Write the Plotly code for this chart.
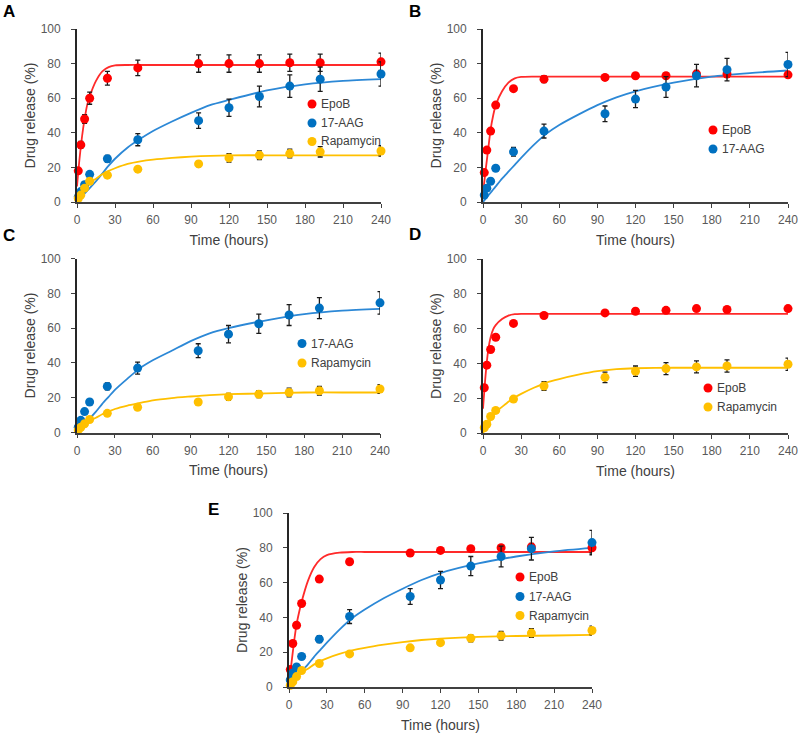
import plotly.graph_objects as go

# ---------------- data ----------------
TIMES = [1, 3, 6, 10, 24, 48, 96, 120, 144, 168, 192, 240]
CURVE_T = [0, 2, 4, 6, 8, 10, 15, 20, 25, 30, 40, 50, 60, 75, 90, 105, 120, 150, 180, 210, 240]

X_TICKS = [0, 30, 60, 90, 120, 150, 180, 210, 240]
Y_TICKS = [0, 20, 40, 60, 80, 100]

# Panel A
A_epob = [18, 33, 48, 60, 71.5, 77.5, 80, 80, 80, 80.5, 80.5, 81]
A_epob_err = [None, 2, 2.5, 3.5, 4, 4.5, 5, 5, 5, 5, 5, 5]
A_aag = [3, 6, 10, 16, 25, 36, 47, 54.5, 61, 67, 71, 74]
A_aag_err = [None, None, None, None, 2, 3.5, 4.5, 5, 6, 6.5, 7, 7]
A_rapa = [2, 4, 8, 12, 15.5, 19, 22, 25.5, 27, 28, 29, 29.5]
A_rapa_err = [None, None, None, None, None, None, 1.5, 2.5, 2.5, 2.5, 3, 3]
A_epob_fit = [9, 25, 38, 48, 56, 61, 70, 75.5, 78, 79, 79.2, 79.2, 79.2, 79.2, 79.2, 79.2, 79.2, 79.2, 79.2, 79.2, 79.2]
A_aag_fit = [0, 1.5, 3, 5, 6.5, 8, 12, 16.5, 21, 25, 31.5, 36.5, 41, 46.5, 51.5, 56, 59, 64.5, 68, 70, 71]
A_rapa_fit = [0, 2.5, 5, 7, 9, 11, 13.5, 16, 18, 19.5, 22, 23.5, 24.5, 25.5, 26.2, 26.7, 27, 27, 27, 27, 27]

# Panel B
B_epob = [17, 30, 41, 56, 65.5, 71, 72, 73, 73, 74, 74, 73.5]
B_epob_err = [None, None, None, None, None, 2, 1, 1.5, 1.5, 2, 2, 1]
B_aag = [4, 8, 12, 19.5, 29, 41, 51, 59.5, 66.5, 73, 76.5, 79.5]
B_aag_err = [None, None, None, None, 2.5, 4, 4.5, 5, 6, 6.5, 6.5, 7]
B_epob_fit = [5, 18, 30, 42, 50, 56, 64, 69, 71.5, 72.3, 72.5, 72.5, 72.5, 72.5, 72.5, 72.5, 72.5, 72.5, 72.5, 72.5, 72.5]
B_aag_fit = [0, 1.8, 3.6, 5.4, 7.2, 9, 13.5, 17.5, 21.5, 25.5, 33, 39.5, 44.5, 50.5, 56, 60.5, 64, 69, 72.5, 74.5, 76]

# Panel C
C_aag = [3, 7, 12, 17.5, 26.5, 37, 47, 56.5, 62.5, 67.5, 71.5, 74.5]
C_aag_err = [None, None, None, None, 2, 3.5, 4, 5, 5.5, 6, 6, 6.5]
C_rapa = [1.5, 3, 5, 7.5, 11, 14.5, 17.5, 20.5, 22, 23, 24, 25]
C_rapa_err = [None, None, None, None, None, None, None, 2, 2, 2.5, 2.5, 2.5]
C_aag_fit = [0, 1.6, 3.2, 5, 6.5, 8, 12, 16.5, 20.5, 24.5, 31, 37, 41.5, 47, 52.5, 57, 60, 64.5, 68, 70, 71]
C_rapa_fit = [0, 1.5, 3, 4.5, 6, 7, 8.5, 10.5, 12, 13.5, 15.5, 17, 18.5, 19.8, 20.7, 21.5, 22, 22.5, 23, 23, 23]

# Panel D
D_epob = [26, 39, 48, 55, 63, 67.5, 69, 70, 70.5, 71.5, 71, 71.5]
D_epob_err = [None] * 12
D_rapa = [3, 5, 9.5, 13, 19.5, 27, 32, 35.5, 37, 38, 38.5, 39.5]
D_rapa_err = [None, None, None, None, None, 2.5, 3, 3, 3.5, 3.5, 3.5, 3.5]
D_epob_fit = [14, 33, 47, 55, 59.5, 62, 65.5, 67.5, 68.3, 68.5, 68.5, 68.5, 68.5, 68.5, 68.5, 68.5, 68.5, 68.5, 68.5, 68.5, 68.5]
D_rapa_fit = [0, 2.5, 5, 7.5, 10, 12, 15, 18, 20.5, 22.5, 26, 29, 31, 33.5, 35.5, 36.7, 37.2, 37.5, 37.5, 37.5, 37.5]

# Panel E
E_epob = [10, 25, 35.5, 48, 62, 72, 77, 78.5, 79.5, 80, 80.5, 80]
E_epob_err = [None, None, None, None, None, None, None, None, None, None, 2, 3]
E_aag = [4, 8, 11.5, 17.5, 27.5, 40.5, 52, 61.5, 69.5, 75, 79.5, 83]
E_aag_err = [None, None, None, None, 2, 4, 4.5, 5, 5.5, 6, 6.5, 7]
E_rapa = [1, 3, 6, 9.5, 13.5, 19, 22.5, 25.5, 28, 29.5, 31, 32.5]
E_rapa_err = [None, None, None, None, None, None, None, None, 2, 2.5, 2.5, 2.5]
E_epob_fit = [2, 14, 26, 36, 43, 49, 61, 69, 73.5, 75.8, 77.2, 77.6, 77.6, 77.6, 77.6, 77.6, 77.6, 77.6, 77.6, 77.6, 77.6]
E_aag_fit = [0, 1.8, 3.6, 5.4, 7.2, 9, 13, 17.5, 21.5, 25.5, 33, 39.5, 44.5, 51, 56.5, 61.5, 65.5, 71, 75, 78, 80]
E_rapa_fit = [0, 1.5, 3, 5, 7, 8.5, 10.5, 13, 15, 16.5, 19, 21, 22.5, 24.3, 25.8, 27, 27.8, 28.8, 29.3, 29.6, 30]

# ---------------- styling ----------------
FONT = "Liberation Sans, Arial, sans-serif"
COL = {"EpoB": "#FF0000", "17-AAG": "#0070C0", "Rapamycin": "#FFC000"}
LINE_COL = {"EpoB": "#FF2A2A", "17-AAG": "#2C88D6", "Rapamycin": "#FFC000"}

W, H = 800, 736

def px_x(a, b):
    return [a / W, b / W]

def px_y(top, bottom):
    return [1 - bottom / H, 1 - top / H]

panels = {
    # name: (x domain, y domain, axis suffix, legend marker centre x, legend item y positions)
    "A": (px_x(77, 381), px_y(29, 202), "", 312, [104, 123, 141.5]),
    "B": (px_x(483, 788), px_y(29, 202), "2", 713, [130, 149]),
    "C": (px_x(77, 380), px_y(258.5, 432.5), "3", 302, [343.5, 363]),
    "D": (px_x(483, 788), px_y(259, 433), "4", 708, [388, 407]),
    "E": (px_x(289, 592), px_y(513, 687), "5", 520, [577, 596.5, 615.5]),
}

series = {
    "A": [("EpoB", A_epob, A_epob_err, A_epob_fit),
          ("17-AAG", A_aag, A_aag_err, A_aag_fit),
          ("Rapamycin", A_rapa, A_rapa_err, A_rapa_fit)],
    "B": [("EpoB", B_epob, B_epob_err, B_epob_fit),
          ("17-AAG", B_aag, B_aag_err, B_aag_fit)],
    "C": [("17-AAG", C_aag, C_aag_err, C_aag_fit),
          ("Rapamycin", C_rapa, C_rapa_err, C_rapa_fit)],
    "D": [("EpoB", D_epob, D_epob_err, D_epob_fit),
          ("Rapamycin", D_rapa, D_rapa_err, D_rapa_fit)],
    "E": [("EpoB", E_epob, E_epob_err, E_epob_fit),
          ("17-AAG", E_aag, E_aag_err, E_aag_fit),
          ("Rapamycin", E_rapa, E_rapa_err, E_rapa_fit)],
}

fig = go.Figure()
layout = dict(
    width=W, height=H, autosize=False,
    margin=dict(l=0, r=0, t=0, b=0, autoexpand=False),
    paper_bgcolor="white", plot_bgcolor="white",
    font=dict(family=FONT, size=12, color="#404040"),
    showlegend=False,
    annotations=[], shapes=[],
)

label_pos = {"A": (9, 11), "B": (415, 11), "C": (8.5, 235.5), "D": (415, 234), "E": (213, 509)}
MARK_D = 9  # legend swatch diameter (px)

for name, (xd, yd, sfx, lgx, lgys) in panels.items():
    xa = "x" + sfx
    ya = "y" + sfx
    # fitted curves first (below markers)
    for drug, vals, err, fit in series[name]:
        fig.add_trace(go.Scatter(
            x=CURVE_T, y=fit, xaxis=xa, yaxis=ya, mode="lines",
            line=dict(color=LINE_COL[drug], width=1.8, shape="spline", smoothing=0.7),
            showlegend=False, hoverinfo="skip", cliponaxis=False,
        ))
    for drug, vals, err, fit in series[name]:
        fig.add_trace(go.Scatter(
            x=TIMES, y=vals, xaxis=xa, yaxis=ya, mode="markers", name=drug,
            marker=dict(color=COL[drug], size=9, line=dict(width=0)),
            error_y=dict(type="data", array=err, visible=True, color="#1a1a1a",
                         thickness=1.3, width=2.5),
            cliponaxis=False,
        ))
    layout["xaxis" + sfx] = dict(
        domain=xd, anchor=ya, range=[0, 240], tickvals=X_TICKS,
        ticks="outside", ticklen=4, tickwidth=1, tickcolor="#404040",
        showline=True, linecolor="#404040", linewidth=1.5,
        showgrid=False, zeroline=False, fixedrange=True,
        tickfont=dict(family=FONT, size=12, color="#595959"),
        ticklabelstandoff=2,
        title=dict(text="Time (hours)", font=dict(family=FONT, size=14, color="#404040"), standoff=9),
    )
    layout["yaxis" + sfx] = dict(
        domain=yd, anchor=xa, range=[0, 100], tickvals=Y_TICKS,
        ticks="outside", ticklen=4, tickwidth=1, tickcolor="#404040",
        showline=True, linecolor="#262626", linewidth=1.8,
        showgrid=False, zeroline=False, fixedrange=True,
        tickfont=dict(family=FONT, size=12, color="#595959"),
        ticklabelstandoff=8,
        title=dict(text="Drug release (%)", font=dict(family=FONT, size=14, color="#404040"), standoff=2),
    )
    # legend: coloured dot + label for each drug of the panel
    for (drug, vals, err, fit), ly in zip(series[name], lgys):
        r = MARK_D / 2
        layout["shapes"].append(dict(
            type="circle", xref="paper", yref="paper",
            x0=(lgx - r) / W, x1=(lgx + r) / W,
            y0=1 - (ly + r) / H, y1=1 - (ly - r) / H,
            fillcolor=COL[drug], line=dict(width=0),
        ))
        layout["annotations"].append(dict(
            text=drug, x=(lgx + 7) / W, y=1 - ly / H, xref="paper", yref="paper",
            xanchor="left", yanchor="middle", showarrow=False,
            font=dict(family=FONT, size=12, color="#404040"),
        ))
    lx, ly = label_pos[name]
    layout["annotations"].append(dict(
        text="<b>%s</b>" % name, x=lx / W, y=1 - ly / H, xref="paper", yref="paper",
        xanchor="center", yanchor="middle", showarrow=False,
        font=dict(family=FONT, size=17, color="black"),
    ))

fig.update_layout(**layout)
fig.write_html(
    "out.html",
    config={"displayModeBar": False},
    post_script="document.body.style.margin='0';document.body.style.overflow='hidden';",
)
